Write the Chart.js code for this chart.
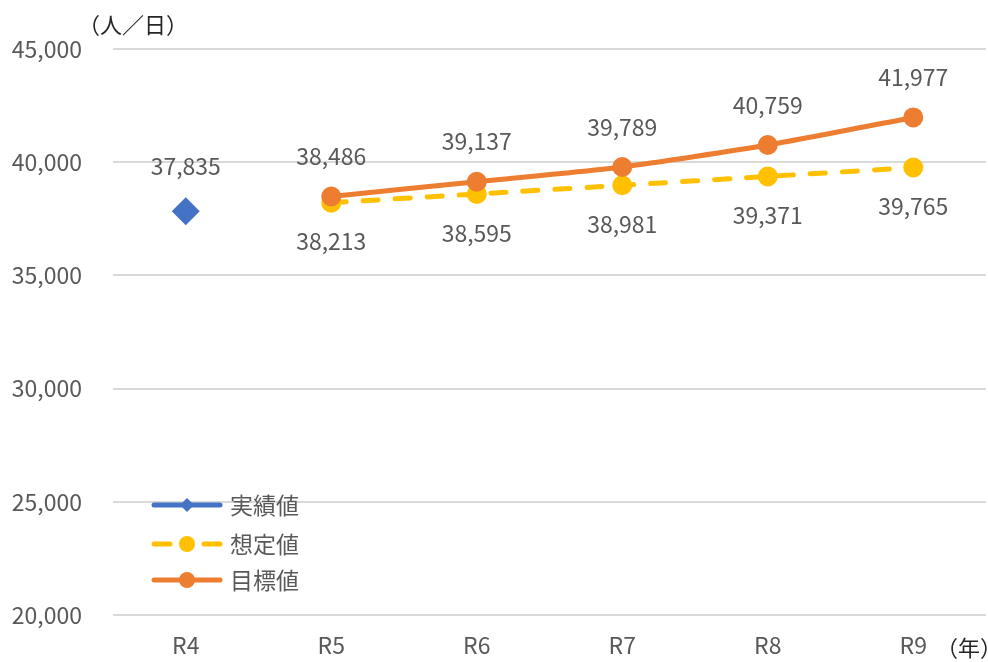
<!DOCTYPE html>
<html><head><meta charset="utf-8">
<script src="https://cdn.jsdelivr.net/npm/chart.js@4"></script>
<style>html,body{margin:0;padding:0;background:#fff;}#wrap{width:988px;height:662px;position:relative;}</style>
</head><body><div id="wrap"><canvas id="c" width="988" height="662"></canvas></div>
<script>
const categories = ['R4','R5','R6','R7','R8','R9'];
const actualValues = [37835, null, null, null, null, null];
const assumedValues = [null, 38213, 38595, 38981, 39371, 39765];
const targetValues = [null, 38486, 39137, 39789, 40759, 41977];
const yTicks = [20000, 25000, 30000, 35000, 40000, 45000];
const seriesNames = ['実績値','想定値','目標値'];

const FONT = '"Noto Sans CJK JP", "Noto Sans", sans-serif';
const TXT = '#595959';

const labelPlugin = {
  id: 'labels',
  afterDatasetsDraw(chart) {
    const ctx = chart.ctx;
    ctx.save();
    ctx.font = '23px ' + FONT;
    ctx.fillStyle = TXT;
    ctx.textAlign = 'center';
    ctx.textBaseline = 'middle';
    chart.data.datasets.forEach((ds, di) => {
      const meta = chart.getDatasetMeta(di);
      meta.data.forEach((pt, i) => {
        const v = ds.data[i];
        if (v == null) return;
        const dy = ds.labelPos === 'below' ? 39 : (ds.pointStyle === 'rectRot' ? -45 : -40);
        ctx.fillText(v.toLocaleString('en-US'), pt.x, pt.y + dy);
      });
    });
    // legend
    const rows = [505, 544, 580];
    chart.data.datasets.forEach((ds, di) => {
      const y = rows[di];
      ctx.save();
      ctx.strokeStyle = ds.borderColor;
      ctx.lineWidth = 5;
      ctx.lineCap = 'round';
      if (ds.borderDash) {
        ctx.beginPath(); ctx.moveTo(154, y); ctx.lineTo(170, y); ctx.stroke();
        ctx.beginPath(); ctx.moveTo(204, y); ctx.lineTo(220, y); ctx.stroke();
      } else {
        ctx.beginPath(); ctx.moveTo(154, y); ctx.lineTo(220, y); ctx.stroke();
      }
      ctx.fillStyle = ds.pointBackgroundColor;
      ctx.beginPath();
      if (ds.pointStyle === 'rectRot') {
        const r = 7;
        ctx.moveTo(187, y - r); ctx.lineTo(187 + r, y); ctx.lineTo(187, y + r); ctx.lineTo(187 - r, y); ctx.closePath();
      } else {
        ctx.arc(187, y, 8, 0, Math.PI * 2);
      }
      ctx.fill();
      ctx.restore();
      ctx.fillStyle = TXT;
      ctx.textAlign = 'left';
      ctx.fillText(ds.label, 230, y);
    });
    // unit labels
    ctx.font = '22px ' + FONT;
    ctx.textAlign = 'left';
    ctx.fillStyle = '#262626';
    ctx.fillText('（人／日）', 78, 25);
    ctx.fillText('（年）', 936, 648);
    ctx.restore();
  }
};

new Chart(document.getElementById('c'), {
  type: 'line',
  data: {
    labels: categories,
    datasets: [
      { label: seriesNames[0], data: actualValues, borderColor: '#4472C4', backgroundColor: '#4472C4',
        pointBackgroundColor: '#4472C4', pointBorderColor: '#4472C4', pointStyle: 'rectRot', pointRadius: 14,
        pointBorderWidth: 0, borderWidth: 5, labelPos: 'above', order: 0 },
      { label: seriesNames[1], data: assumedValues, borderColor: '#FFC000', backgroundColor: '#FFC000',
        pointBackgroundColor: '#FFC000', pointBorderColor: '#FFC000', pointRadius: 7.5, borderWidth: 5,
        borderDash: [15, 17], borderCapStyle: 'round', tension: 0.2, labelPos: 'below', order: 2 },
      { label: seriesNames[2], data: targetValues, borderColor: '#ED7D31', backgroundColor: '#ED7D31',
        pointBackgroundColor: '#ED7D31', pointBorderColor: '#ED7D31', pointRadius: 7.5, borderWidth: 5,
        tension: 0.2, labelPos: 'above', order: 1 }
    ]
  },
  options: {
    responsive: false,
    animation: false,
    spanGaps: false,
    layout: { autoPadding: false, padding: { top: 49, right: 2, left: 0, bottom: 0 } },
    plugins: { legend: { display: false }, tooltip: { enabled: false } },
    scales: {
      x: {
        offset: true,
        grid: { display: false },
        border: { display: false },
        ticks: { color: TXT, font: { family: FONT, size: 23 }, padding: 8 },
        afterFit(s) { s.height = 47; }
      },
      y: {
        min: 20000, max: 45000,
        afterBuildTicks(s) { s.ticks = yTicks.map(v => ({ value: v })); },
        grid: { color: '#D9D9D9', lineWidth: 2, drawTicks: false },
        border: { display: false },
        ticks: { color: TXT, font: { family: FONT, size: 23 }, padding: 31,
          callback: v => v.toLocaleString('en-US') },
        afterFit(s) { s.width = 113; }
      }
    }
  },
  plugins: [labelPlugin]
});
</script></body></html>
